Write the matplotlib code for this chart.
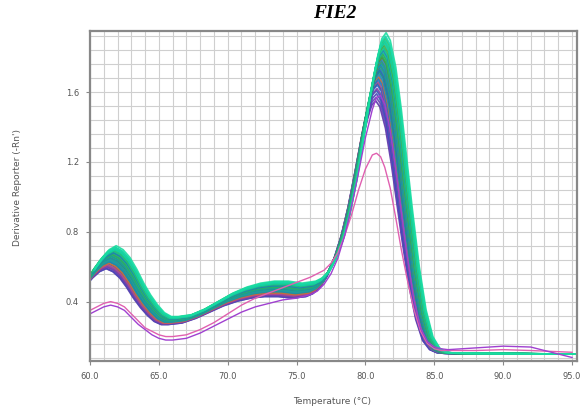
import matplotlib.pyplot as plt
import numpy as np
from matplotlib.ticker import MultipleLocator

# melt curve temperature nodes (°C)
temps = [60.0, 60.5, 61.0, 61.5, 62.0, 62.5, 63.0, 63.5, 64.0, 64.5, 65.0, 65.5,
         66.0, 67.0, 68.0, 69.0, 70.0, 71.0, 72.0, 73.0, 74.0, 75.0, 76.0, 76.5,
         77.0, 77.5, 78.0, 78.5, 79.0, 79.5, 80.0, 80.5, 80.8, 81.1, 81.4, 81.8,
         82.2, 82.6, 83.0, 83.5, 84.0, 84.5, 85.0, 85.5, 86.0, 88.0, 90.0, 92.0, 95.0]

# typical well, derivative reporter (-Rn')
typical = [0.54, 0.59, 0.63, 0.65, 0.63, 0.59, 0.53, 0.46, 0.40, 0.35, 0.31, 0.29,
           0.29, 0.30, 0.33, 0.37, 0.41, 0.44, 0.46, 0.47, 0.47, 0.46, 0.47, 0.49,
           0.53, 0.60, 0.70, 0.84, 1.02, 1.24, 1.47, 1.66, 1.75, 1.78, 1.74, 1.60,
           1.38, 1.12, 0.86, 0.56, 0.33, 0.19, 0.13, 0.11, 0.105, 0.103, 0.102, 0.101, 0.10]

# per-well peak heights (main product), primer-dimer peak heights and Tm offsets
peak_max = [1.55, 1.57, 1.59, 1.61, 1.62, 1.64, 1.65, 1.66, 1.67, 1.68,
            1.69, 1.70, 1.71, 1.72, 1.72, 1.73, 1.74, 1.75, 1.75, 1.76,
            1.77, 1.78, 1.78, 1.79, 1.80, 1.80, 1.81, 1.82, 1.82, 1.83,
            1.84, 1.85, 1.86, 1.87, 1.88, 1.89, 1.90, 1.91, 1.92, 1.94]
low_max = [0.59, 0.60, 0.59, 0.61, 0.60, 0.62, 0.62, 0.61, 0.63, 0.63,
           0.62, 0.64, 0.64, 0.65, 0.63, 0.65, 0.65, 0.66, 0.64, 0.66,
           0.66, 0.67, 0.66, 0.67, 0.67, 0.68, 0.67, 0.68, 0.69, 0.69,
           0.68, 0.70, 0.69, 0.70, 0.70, 0.71, 0.70, 0.71, 0.71, 0.72]
tm_shift = [-0.35, -0.32, -0.30, -0.30, -0.26, -0.24, -0.22, -0.22, -0.18, -0.15,
            -0.15, -0.12, -0.10, -0.08, -0.08, -0.05, -0.03, 0.00, -0.01, 0.03,
            0.05, 0.06, 0.04, 0.09, 0.10, 0.12, 0.11, 0.15, 0.16, 0.18,
            0.20, 0.22, 0.21, 0.25, 0.27, 0.30, 0.31, 0.34, 0.36, 0.40]
well_colors = ['#5a35a8', '#6a40b8', '#4a48b8', '#3550c0', '#7a40a8', '#3a60c8',
               '#2560b0', '#b84888', '#2f70c0', '#2078b8', '#d07030', '#2585c0',
               '#2a8fb0', '#4a7f2a', '#1a90a8', '#3060b8', '#1c98a0', '#7a6a20',
               '#1fa098', '#1888c0', '#18a088', '#c05a30', '#15a890', '#3a7ac8',
               '#20b080', '#5a9030', '#28b060', '#18b898', '#3cb048', '#10c0a0',
               '#2080b0', '#10c898', '#20c080', '#50a838', '#12cca8', '#18cc88',
               '#10d4a8', '#30c870', '#14d8b0', '#1adca0']

# two low-yield wells
pink_well = [0.35, 0.37, 0.39, 0.40, 0.39, 0.37, 0.33, 0.29, 0.25, 0.23, 0.21, 0.20,
             0.20, 0.21, 0.24, 0.28, 0.33, 0.38, 0.42, 0.45, 0.48, 0.51, 0.54, 0.56,
             0.58, 0.62, 0.68, 0.78, 0.90, 1.04, 1.16, 1.24, 1.25, 1.23, 1.17, 1.05,
             0.88, 0.70, 0.54, 0.36, 0.23, 0.16, 0.13, 0.12, 0.12, 0.12, 0.125, 0.12, 0.11]
magenta_well = [0.33, 0.35, 0.37, 0.38, 0.37, 0.35, 0.31, 0.27, 0.24, 0.21, 0.19, 0.18,
                0.18, 0.19, 0.22, 0.26, 0.30, 0.34, 0.37, 0.39, 0.41, 0.42, 0.44, 0.46,
                0.50, 0.56, 0.65, 0.78, 0.95, 1.14, 1.34, 1.50, 1.57, 1.58, 1.53, 1.38,
                1.16, 0.92, 0.68, 0.42, 0.25, 0.17, 0.14, 0.13, 0.125, 0.135, 0.145, 0.14, 0.08]

t = np.array(temps)
base = np.array(typical)
floor = 0.10

fig = plt.figure(figsize=(5.81, 4.16), dpi=100)
ax = fig.add_axes([90 / 581, 1 - 361 / 416, 487 / 581, 330 / 416])

# each well: typical curve rescaled to its own dimer / product peak heights
blend = np.clip((t - 76.0) / 2.5, 0, 1)
for pk, lo, dt, col in zip(peak_max, low_max, tm_shift, well_colors):
    s_low = (lo - floor) / (max(typical[:8]) - floor)
    s_pk = (pk - floor) / (max(typical) - floor)
    scale = s_low * (1 - blend) + s_pk * blend
    ax.plot(t + dt, floor + (base - floor) * scale, color=col, lw=1.25, alpha=0.9)

ax.plot(t, pink_well, color='#e060b0', lw=1.0)
ax.plot(t, magenta_well, color='#a040d0', lw=1.0)

ax.set_xlim(60, 95.36)
ax.set_ylim(0.06, 1.95)
ax.xaxis.set_major_locator(MultipleLocator(5))
ax.xaxis.set_minor_locator(MultipleLocator(1))
ax.yaxis.set_major_locator(MultipleLocator(0.4))
ax.yaxis.set_minor_locator(MultipleLocator(0.08))
ax.xaxis.set_major_formatter('{x:.1f}')
ax.yaxis.set_major_formatter('{x:.1f}')
ax.grid(True, which='both', color='#cfcfcf', lw=0.8)
ax.set_axisbelow(True)
ax.tick_params(which='major', length=3, color='#888888', labelsize=6, labelcolor='#555555', pad=5)
ax.tick_params(which='minor', length=0)
for sp in ax.spines.values():
    sp.set_color('#888888')
    sp.set_linewidth(1.6)

fig.text(0.576, 0.968, 'FIE2', family='Liberation Serif', fontweight='bold',
         fontstyle='italic', fontsize=14, ha='center', va='center')
fig.text(332 / 581, 1 - 402 / 416, 'Temperature (°C)', fontsize=6.5, color='#555555',
         ha='center', va='center')
fig.text(18 / 581, 1 - 187 / 416, "Derivative Reporter (-Rn')", fontsize=6.5,
         color='#555555', rotation=90, ha='center', va='center')

fig.savefig('out.png', dpi=100)
